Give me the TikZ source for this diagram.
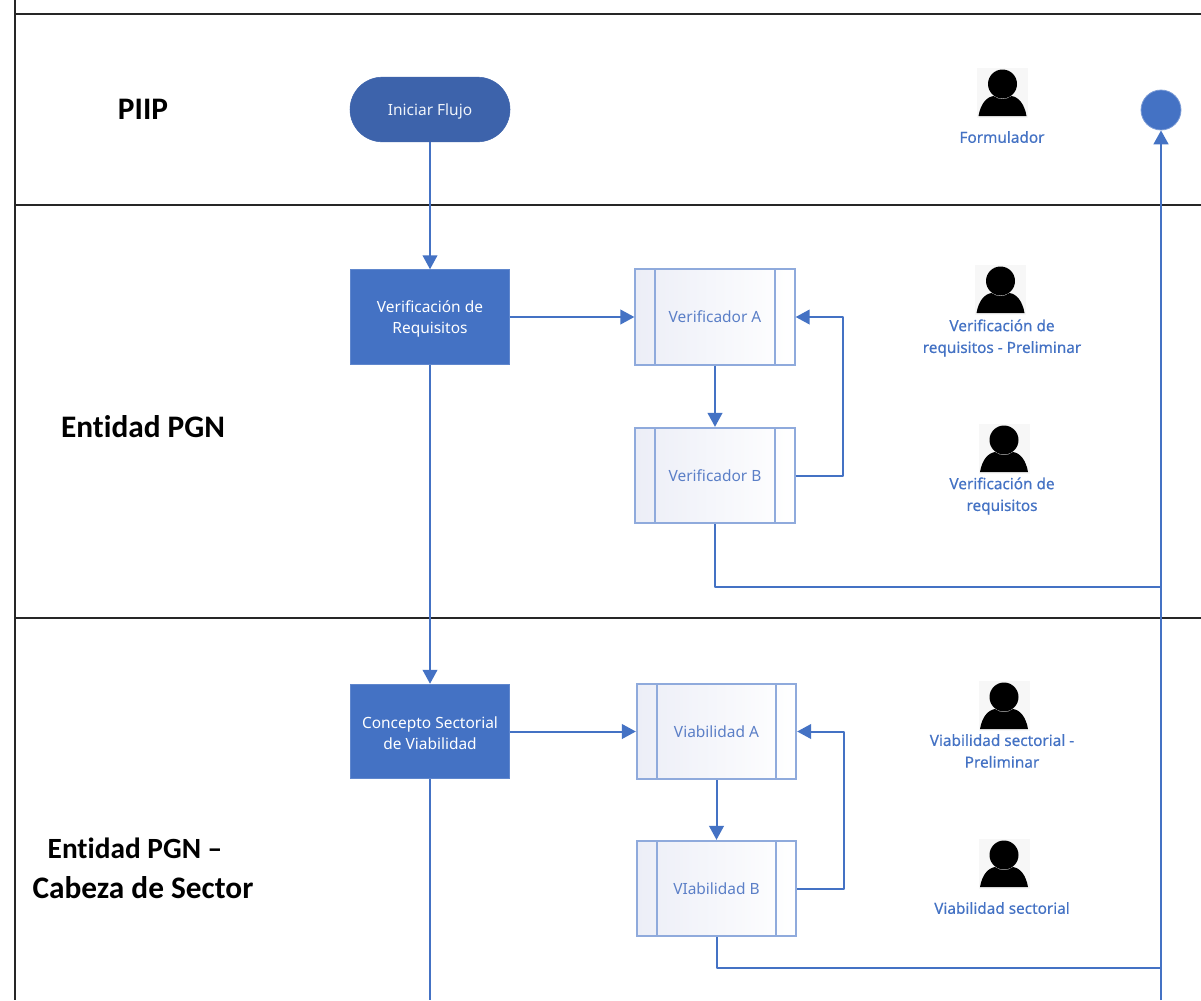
\documentclass[tikz,border=0pt]{standalone}
\usepackage{fontspec}
\setmainfont{Noto Sans}
\newfontfamily\headfont[Ligatures=NoCommon]{Carlito}
\newfontfamily\rolefont[FakeBold=0.35]{Noto Sans}
\usetikzlibrary{arrows.meta,calc,shapes.misc}
\definecolor{flowblue}{HTML}{4472C4}
\definecolor{startblue}{HTML}{3D63AB}
\definecolor{subedge}{HTML}{8FAADC}
\definecolor{labelblue}{HTML}{4472C4}
\definecolor{subtext}{HTML}{5B7FC7}
\definecolor{subtint}{HTML}{ECEEF7}
\tikzset{
  x=0.75pt,y=-0.75pt,
  band/.style={draw=black!85,line width=0.85pt},
  flow/.style={draw=flowblue,line width=1.5pt,line join=round},
  flowarrow/.style={flow,-{Triangle[length=10.5pt,width=11pt]}},
  txt/.style={font=\fontsize{11.6pt}{15.7pt}\selectfont,align=center},
  taskbox/.style={txt,text=white,fill=flowblue,draw=flowblue!85!white,line width=0.6pt,minimum width=119pt,minimum height=71pt,inner sep=0pt},
  startbox/.style={txt,text=white!92!flowblue,fill=startblue,draw=startblue,rounded rectangle,minimum width=120pt,minimum height=48.5pt,inner sep=0pt},
  subbox/.style={txt,text=subtext,draw=subedge,line width=1.5pt,minimum width=119.5pt,minimum height=71.5pt,inner sep=0pt,
    shade,shading angle=315,left color=subtint,middle color=white!50!subtint!40!white,right color=white,
    path picture={
      \draw[subedge,line width=1.5pt] ($(path picture bounding box.north west)+(20,0)$) -- ($(path picture bounding box.south west)+(20,0)$);
      \draw[subedge,line width=1.5pt] ($(path picture bounding box.north east)+(-20,0)$) -- ($(path picture bounding box.south east)+(-20,0)$);
    }},
  endcircle/.style={circle,fill=flowblue,draw=flowblue!70!white,line width=0.6pt,minimum size=30pt,inner sep=0pt},
  heading/.style={font=\headfont\bfseries\fontsize{23.5pt}{30pt}\selectfont,align=center,text=black},
  rolelabel/.style={font=\rolefont\fontsize{11.5pt}{16.3pt}\selectfont,align=center,text=labelblue},
}
\newcommand{\personicon}[2]{%
  \fill[black!3] (#1-25.5,#2-16) rectangle (#1+25.5,#2+33.5);
  \fill[black] (#1,#2) circle[radius=14.5];
  \fill[black] (#1-24,#2+32) .. controls (#1-22,#2+20) and (#1-16,#2+13) .. (#1-9,#2+12)
     .. controls (#1-4,#2+16) and (#1+4,#2+16) .. (#1+9,#2+12)
     .. controls (#1+16,#2+13) and (#1+22,#2+20) .. (#1+24,#2+32) -- cycle;
}
\newcommand{\lowerline}{\rule{0pt}{11.5pt}}
\begin{document}
\begin{tikzpicture}
\useasboundingbox (0,0) rectangle (1201,1000);
\fill[white] (0,0) rectangle (1201,1000);
% swimlanes
\coordinate (laneTop) at (15,0);
\coordinate (laneBottom) at (15,1000);
\draw[band] (laneTop) -- (laneBottom);
\draw[band] (15,14) -- (1201,14);
\draw[band] (15,205) -- (1201,205);
\draw[band] (15,618) -- (1201,618);
% headings
\node[heading] (hPiip) at (143,109) {PIIP};
\node[heading] (hPgn) at (143,427) {Entidad PGN};
\node[heading] (hSector) at (143,868) {{\fontsize{22pt}{30pt}\selectfont Entidad PGN –}\hspace*{12pt}\\Cabeza de Sector};
% nodes
\node[startbox] (start) at (430,109.5) {\raisebox{0pt}[\height][0pt]{Iniciar Flujo}};
\node[taskbox] (verif) at (430,317) {\lowerline Verificación de\\Requisitos};
\node[taskbox] (conc) at (430,731.5) {\lowerline Concepto Sectorial\\de Viabilidad};
\node[subbox] (va) at (715,317) {Verificador A};
\node[subbox] (vb) at (715,475.5) {Verificador B};
\node[subbox] (via) at (716.5,731.5) {Viabilidad A};
\node[subbox] (vib) at (716.5,888.5) {VIabilidad B};
\node[endcircle] (fin) at (1161,110) {};
% free ends
\coordinate (concOut) at (430,1000);
\coordinate (finOut) at (1161,1000);
\coordinate (j1) at (1161,587);
\coordinate (j2) at (1161,968);
\coordinate (r1) at (843,400);
\coordinate (r2) at (844,800);
% connectors
\draw[flowarrow] (start.south) -- (verif.north);
\draw[flowarrow] (verif.south) -- (conc.north);
\draw[flow] (conc.south) -- (concOut);
\draw[flowarrow] (verif.east) -- (va.west);
\draw[flowarrow] (conc.east) -- (via.west);
\draw[flowarrow] (va.south) -- (vb.north);
\draw[flowarrow] (via.south) -- (vib.north);
\draw[flowarrow] (vb.east) -- (vb.east -| r1) -- (va.east -| r1) -- (va.east);
\draw[flowarrow] (vib.east) -- (vib.east -| r2) -- (via.east -| r2) -- (via.east);
\draw[flow] (vb.south) |- (j1);
\draw[flow] (vib.south) |- (j2);
\draw[flowarrow,line width=2pt] (finOut) -- (fin.south);
% roles
\personicon{1002.5}{84}
\node[rolelabel] (rForm) at (1002,137) {Formulador};
\personicon{1000.5}{281}
\node[rolelabel] (rVer1) at (1002,338) {Verificación de\\requisitos - Preliminar};
\personicon{1004}{440}
\node[rolelabel] (rVer2) at (1002,496) {Verificación de\\requisitos};
\personicon{1004}{697}
\node[rolelabel] (rVia1) at (1002,751) {Viabilidad sectorial -\\Preliminar};
\personicon{1004}{855}
\node[rolelabel] (rVia2) at (1002,908) {Viabilidad sectorial};
\end{tikzpicture}
\end{document}
